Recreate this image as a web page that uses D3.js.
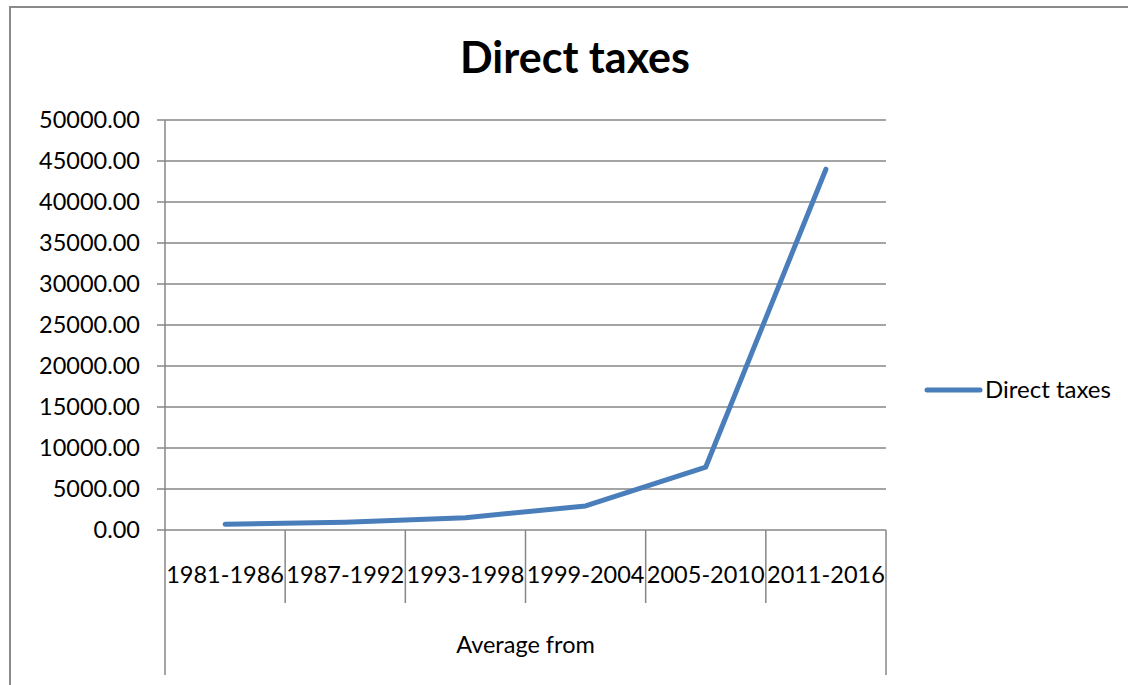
<!DOCTYPE html>
<html>
<head>
<meta charset="utf-8">
<script src="https://cdn.jsdelivr.net/npm/d3@7"></script>
<style>
  body { margin: 0; background: #fff; }
  svg { display: block; font-family: Lato, "Open Sans", sans-serif; }
</style>
</head>
<body>
<svg id="chart" width="1128" height="685"></svg>
<script>
const categories = ["1981-1986", "1987-1992", "1993-1998", "1999-2004", "2005-2010", "2011-2016"];
const seriesName = "Direct taxes";
const values = [700, 940, 1500, 2930, 7680, 44000];
const yTicks = [0, 5000, 10000, 15000, 20000, 25000, 30000, 35000, 40000, 45000, 50000];
const chartTitle = "Direct taxes";
const xAxisTitle = "Average from";

(function () {
const svg = d3.select("#chart");
const gridColor = "#878787";
const lineColor = "#4a7ebb";

// outer border
svg.append("rect").attr("x", 10).attr("y", 7).attr("width", 1130).attr("height", 690)
  .attr("fill", "none").attr("stroke", "#8a8a8a").attr("stroke-width", 2);

const pLeft = 165, pRight = 886, pTop = 120, pBottom = 530;
const x = d3.scaleBand().domain(categories).range([pLeft, pRight]).padding(0);
const y = d3.scaleLinear().domain([0, 50000]).range([pBottom, pTop]);

// gridlines + y labels
const gy = svg.append("g");
gy.selectAll("line").data(yTicks).join("line")
  .attr("x1", pLeft - 8).attr("x2", pRight)
  .attr("y1", d => y(d)).attr("y2", d => y(d))
  .attr("stroke", gridColor).attr("stroke-width", 1.5);
gy.selectAll("text").data(yTicks).join("text")
  .attr("x", 140).attr("y", d => y(d)).attr("dy", "0.35em")
  .attr("text-anchor", "end").attr("font-size", 23.5).attr("fill", "#000")
  .text(d => d3.format(".2f")(d));

// y axis line
svg.append("line").attr("x1", pLeft).attr("x2", pLeft).attr("y1", pTop).attr("y2", 675)
  .attr("stroke", gridColor).attr("stroke-width", 1.5);
svg.append("line").attr("x1", pRight).attr("x2", pRight).attr("y1", pBottom).attr("y2", 675)
  .attr("stroke", gridColor).attr("stroke-width", 1.5);

// category dividers
const dividers = categories.slice(1).map(c => x(c));
svg.append("g").selectAll("line").data(dividers).join("line")
  .attr("x1", d => d).attr("x2", d => d).attr("y1", pBottom).attr("y2", 603)
  .attr("stroke", gridColor).attr("stroke-width", 1.5);

// category labels
svg.append("g").selectAll("text").data(categories).join("text")
  .attr("x", d => x(d) + x.bandwidth() / 2).attr("y", 583)
  .attr("text-anchor", "middle").attr("font-size", 23.5).attr("fill", "#000")
  .text(d => d);

// x-axis title
svg.append("text").attr("x", (pLeft + pRight) / 2).attr("y", 653)
  .attr("text-anchor", "middle").attr("font-size", 23.5).attr("fill", "#000")
  .text(xAxisTitle);

// series line
const line = d3.line().x((d, i) => x(categories[i]) + x.bandwidth() / 2).y(d => y(d));
svg.append("path").datum(values).attr("d", line)
  .attr("fill", "none").attr("stroke", lineColor).attr("stroke-width", 5)
  .attr("stroke-linecap", "round").attr("stroke-linejoin", "round");

// title
svg.append("text").attr("x", 575).attr("y", 73).attr("text-anchor", "middle")
  .attr("font-size", 43).attr("font-weight", "bold").attr("fill", "#000")
  .text(chartTitle);

// legend
svg.append("line").attr("x1", 927).attr("x2", 980).attr("y1", 390).attr("y2", 390)
  .attr("stroke", lineColor).attr("stroke-width", 5).attr("stroke-linecap", "round");
svg.append("text").attr("x", 985).attr("y", 390).attr("dy", "0.35em")
  .attr("font-size", 24).attr("fill", "#000").text(seriesName);
})();
</script>
</body>
</html>
